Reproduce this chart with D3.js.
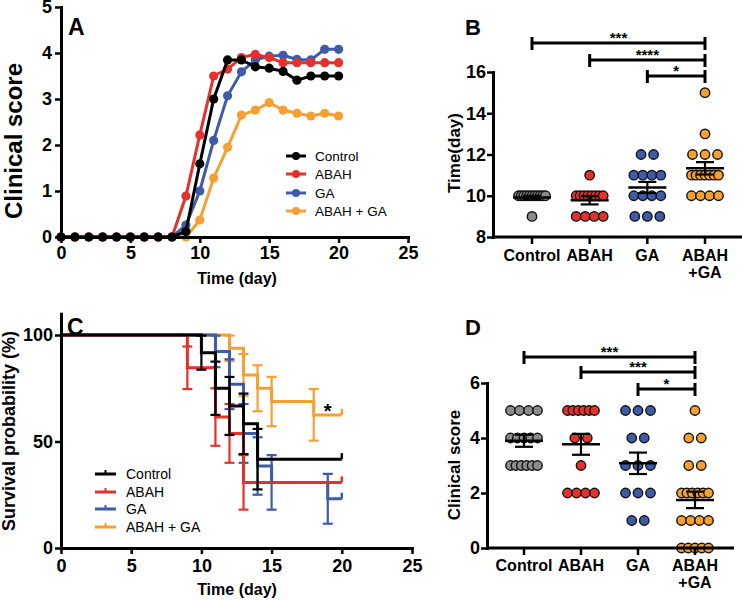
<!DOCTYPE html>
<html><head><meta charset="utf-8">
<script src="https://cdn.jsdelivr.net/npm/d3@7"></script>
<style>body{margin:0;background:#fff}svg text{font-family:"Liberation Sans",Arial,Helvetica,sans-serif}</style>
</head><body><svg id="c" width="742" height="601"></svg>
<script>
// ---------- data ----------
const groups = ["Control", "ABAH", "GA", "ABAH + GA"];
const lineColors = ["#000000", "#e5302d", "#3d5ba8", "#f5a030"];
const dotColors = ["#8c8c8c", "#e5302d", "#3d5ba8", "#f5a030"];
const catLines = [["Control"], ["ABAH"], ["GA"], ["ABAH", "+GA"]];

// Panel A: clinical score over time
const days = [0,1,2,3,4,5,6,7,8,9,10,11,12,13,14,15,16,17,18,19,20];
const scoreControl = [0,0,0,0,0,0,0,0,0,0.12,1.59,3.0,3.85,3.85,3.7,3.67,3.6,3.41,3.5,3.5,3.5];
const scoreABAH    = [0,0,0,0,0,0,0,0,0,0.89,2.22,3.5,3.65,3.9,3.97,3.9,3.79,3.79,3.79,3.79,3.79];
const scoreGA      = [0,0,0,0,0,0,0,0,0,0.26,1.0,2.1,3.07,3.59,3.85,3.93,3.95,3.86,3.85,4.08,4.08];
const scoreCombo   = [0,0,0,0,0,0,0,0,0,0,0.37,1.28,1.95,2.65,2.76,2.92,2.76,2.69,2.63,2.69,2.63];
const xTicksA = [0,5,10,15,20,25];
const yTicksA = [0,1,2,3,4,5];

// Panel B: onset time (day)
const onsetControl = [10,10,10,10,10,10,10,10,10,10,10,9];
const onsetABAH    = [11,10,10,10,10,10,10,10,10,9,9,9,9];
const onsetGA      = [12,12,11,11,11,11,10,10,10,10,9,9,9];
const onsetCombo   = [15,13,12,12,12,11,11,11,11,11,11,11,10,10,10,10];
const onsetMean = [9.92, 9.78, 10.4, 11.33];
const onsetSEM  = [0.08, 0.2, 0.27, 0.3];
const yTicksB = [8,10,12,14,16];
const sigB = [[0,3,"***"],[1,3,"****"],[2,3,"*"]];

// Panel C: survival (Kaplan-Meier)
const kmTimeControl = [0,10,11,12,13,14,20];
const kmSurvControl = [100,91.7,75,66.7,58.3,41.7,41.7];
const kmSEControl   = [0,8,12.5,13.6,14.2,14.2,0];
const kmTimeABAH = [0,9,11,12,13,20];
const kmSurvABAH = [100,84.6,61.5,53.8,30.8,30.8];
const kmSEABAH   = [0,10,13.5,13.8,12.8,0];
const kmTimeGA = [0,11,12,13,14,15,19,20];
const kmSurvGA = [100,92.3,76.9,53.8,38.5,30.8,23.1,23.1];
const kmSEGA   = [0,7.4,11.7,13.8,13.5,12.8,11.7,0];
const kmTimeCombo = [0,12,13,14,15,18,20];
const kmSurvCombo = [100,93.75,81.25,75,68.75,62.5,62.5];
const kmSECombo   = [0,6,9.8,10.8,11.6,12.1,0];
const xTicksC = [0,5,10,15,20,25];
const yTicksC = [0,50,100];
const starC = {day: 19, surv: 66.5, text: "*"};

// Panel D: clinical score per animal
const clinControl = [5,5,5,5,4,4,4,4,4,3,3,3,3,3,3];
const clinABAH    = [5,5,5,5,5,5,4,4,3,2,2,2,2];
const clinGA      = [5,5,5,4,4,3,3,3,2,2,2,1,1];
const clinCombo   = [5,4,4,3,3,2,2,2,2,2,2,1,1,1,1,0,0,0,0,0];
const clinMean = [3.9, 3.77, 3.08, 1.75];
const clinSEM  = [0.22, 0.38, 0.39, 0.3];
const yTicksD = [0,2,4,6];
const sigD = [[0,3,"***"],[1,3,"***"],[2,3,"*"]];

// ---------- drawing ----------
const svg = d3.select("#c");
const fmt = d3.format("d");

function styleAxis(g, fs) {
  g.selectAll(".domain").attr("stroke-width", 3).attr("stroke-linecap", "square");
  g.selectAll(".tick line").attr("stroke-width", 2.5);
  g.selectAll(".tick text").attr("font-size", fs).attr("font-weight", "bold").attr("fill", "#000");
}
function label(x, y, txt, fs, weight, rot) {
  const t = svg.append("text").attr("font-size", fs).attr("font-weight", weight || "bold").text(txt);
  if (rot) t.attr("transform", `translate(${x},${y}) rotate(-90)`).attr("text-anchor", "middle");
  else t.attr("x", x).attr("y", y);
  return t;
}

// ===== Panel A =====
(function () {
  const x = d3.scaleLinear().domain([0, 25]).range([61, 408]);
  const y = d3.scaleLinear().domain([0, 5]).range([237, 7]);
  const series = [scoreControl, scoreABAH, scoreGA, scoreCombo];
  const line = d3.line().x((d, i) => x(days[i])).y(d => y(d));
  [3, 2, 1, 0].forEach(k => {
    svg.append("path").datum(series[k]).attr("d", line).attr("fill", "none")
      .attr("stroke", lineColors[k]).attr("stroke-width", 3);
    svg.append("g").selectAll("circle").data(series[k]).join("circle")
      .attr("cx", (d, i) => x(days[i])).attr("cy", d => y(d)).attr("r", 4.6).attr("fill", lineColors[k]);
  });
  svg.append("g").attr("transform", "translate(0,237)")
    .call(d3.axisBottom(x).tickValues(xTicksA).tickFormat(fmt).tickSize(6).tickSizeOuter(0).tickPadding(3)).call(styleAxis, 18);
  svg.append("g").attr("transform", "translate(61,0)")
    .call(d3.axisLeft(y).tickValues(yTicksA).tickFormat(fmt).tickSize(6).tickSizeOuter(0).tickPadding(3)).call(styleAxis, 18);
  label(237, 284, "Time (day)", 16).attr("text-anchor", "middle");
  label(22, 141, "Clinical score", 24, "bold", true);
  label(68, 35, "A", 23);
  // legend
  const ly = [156, 174, 193, 211];
  groups.forEach((g, k) => {
    svg.append("line").attr("x1", 286).attr("x2", 306).attr("y1", ly[k]).attr("y2", ly[k])
      .attr("stroke", lineColors[k]).attr("stroke-width", 3);
    svg.append("circle").attr("cx", 296).attr("cy", ly[k]).attr("r", 4).attr("fill", lineColors[k]);
    label(315, ly[k] + 5, g, 13.5, "normal");
  });
})();

// ===== Panel C =====
(function () {
  const x = d3.scaleLinear().domain([0, 25]).range([61, 412]);
  const y = d3.scaleLinear().domain([0, 110]).range([548, 313.7]);
  const T = [kmTimeControl, kmTimeABAH, kmTimeGA, kmTimeCombo];
  const S = [kmSurvControl, kmSurvABAH, kmSurvGA, kmSurvCombo];
  const E = [kmSEControl, kmSEABAH, kmSEGA, kmSECombo];
  const line = d3.line().curve(d3.curveStepAfter);
  [3, 2, 1, 0].forEach(k => {
    const pts = T[k].map((t, i) => [x(t), y(S[k][i])]);
    const g = svg.append("g").attr("stroke", lineColors[k]).attr("fill", "none");
    T[k].forEach((t, i) => {
      if (!E[k][i]) return;
      const xx = x(t), y1 = y(S[k][i] - E[k][i]), y2 = y(S[k][i] + E[k][i]);
      g.append("line").attr("x1", xx).attr("x2", xx).attr("y1", y1).attr("y2", y2).attr("stroke-width", 2.2);
      [y1, y2].forEach(yy => g.append("line").attr("x1", xx - 5).attr("x2", xx + 5)
        .attr("y1", yy).attr("y2", yy).attr("stroke-width", 2.2));
    });
    g.append("path").attr("d", line(pts)).attr("stroke-width", 3);
    const last = pts[pts.length - 1];
    g.append("line").attr("x1", last[0]).attr("x2", last[0]).attr("y1", last[1]).attr("y2", last[1] - 6)
      .attr("stroke-width", 2.5);
  });
  svg.append("g").attr("transform", "translate(0,548)")
    .call(d3.axisBottom(x).tickValues(xTicksC).tickFormat(fmt).tickSize(6).tickSizeOuter(0).tickPadding(5)).call(styleAxis, 18);
  svg.append("g").attr("transform", "translate(61,0)")
    .call(d3.axisLeft(y).tickValues(yTicksC).tickFormat(fmt).tickSize(6).tickSizeOuter(0).tickPadding(2)).call(styleAxis, 18);
  label(x(starC.day), y(starC.surv) + 12, starC.text, 20).attr("text-anchor", "middle");
  label(237, 595, "Time (day)", 16).attr("text-anchor", "middle");
  label(15, 431, "Survival probability (%)", 18, "bold", true);
  label(67, 335, "C", 23);
  const ly = [474, 492, 509, 527];
  groups.forEach((g, k) => {
    svg.append("line").attr("x1", 95).attr("x2", 116).attr("y1", ly[k]).attr("y2", ly[k])
      .attr("stroke", lineColors[k]).attr("stroke-width", 3);
    svg.append("line").attr("x1", 105.5).attr("x2", 105.5).attr("y1", ly[k]).attr("y2", ly[k] - 4)
      .attr("stroke", lineColors[k]).attr("stroke-width", 2);
    label(126, ly[k] + 5, g, 14, "normal");
  });
})();

// ===== scatter panels B and D =====
function scatterPanel(o) {
  const x = d3.scalePoint().domain(groups).range(o.xRange);
  const y = d3.scaleLinear().domain(o.yDomain).range([o.yBottom, o.yTop]);
  o.values.forEach((vals, k) => {
    const rows = d3.group(vals, v => v);
    const pts = [];
    rows.forEach((arr, v) => {
      const n = arr.length;
      const sp = n > 1 ? Math.min(12.5, 27 / (n - 1)) : 0;
      arr.forEach((_, i) => pts.push([x(groups[k]) + (i - (n - 1) / 2) * sp, y(v)]));
    });
    svg.append("g").selectAll("circle").data(pts).join("circle")
      .attr("cx", d => d[0]).attr("cy", d => d[1]).attr("r", 4.7)
      .attr("fill", dotColors[k]).attr("stroke", "#111").attr("stroke-width", 1.4);
  });
  groups.forEach((g, k) => {
    const cx = x(g), m = y(o.mean[k]), lo = y(o.mean[k] - o.sem[k]), hi = y(o.mean[k] + o.sem[k]);
    const gg = svg.append("g").attr("stroke", "#000");
    gg.append("line").attr("x1", cx - 19).attr("x2", cx + 19).attr("y1", m).attr("y2", m).attr("stroke-width", 2.5);
    gg.append("line").attr("x1", cx).attr("x2", cx).attr("y1", lo).attr("y2", hi).attr("stroke-width", 2.2);
    [lo, hi].forEach(yy => gg.append("line").attr("x1", cx - 9).attr("x2", cx + 9)
      .attr("y1", yy).attr("y2", yy).attr("stroke-width", 2.2));
  });
  svg.append("g").attr("transform", `translate(${o.axisX},0)`)
    .call(d3.axisLeft(y).tickValues(o.yTicks).tickFormat(fmt).tickSize(6).tickSizeOuter(0).tickPadding(1)).call(styleAxis, 18);
  svg.append("line").attr("x1", o.axisX).attr("x2", o.xEnd).attr("y1", o.yBottom).attr("y2", o.yBottom)
    .attr("stroke", "#000").attr("stroke-width", 3);
  groups.forEach((g, k) => {
    svg.append("line").attr("x1", x(g)).attr("x2", x(g)).attr("y1", o.yBottom).attr("y2", o.yBottom + 7)
      .attr("stroke", "#000").attr("stroke-width", 2.5);
    catLines[k].forEach((t, j) => label(x(g), o.catBase + j * 17, t, 16).attr("text-anchor", "middle"));
  });
  o.sig.forEach((s, j) => {
    const yy = o.sigY[j], x1 = x(groups[s[0]]), x2 = x(groups[s[1]]);
    const gg = svg.append("g").attr("stroke", "#000").attr("stroke-width", 3);
    gg.append("line").attr("x1", x1).attr("x2", x2).attr("y1", yy).attr("y2", yy);
    gg.append("line").attr("x1", x1).attr("x2", x1).attr("y1", yy - 6).attr("y2", yy + 7);
    gg.append("line").attr("x1", x2).attr("x2", x2).attr("y1", yy - 6).attr("y2", yy + 7);
    label((x1 + x2) / 2, yy - 0.5, s[2], 15).attr("text-anchor", "middle");
  });
  label(o.titleX, o.titleY, o.title, o.titleSize, "bold", true);
  label(o.letterX, o.letterY, o.letter, 22);
}

scatterPanel({
  xRange: [532, 705], yDomain: [8, 16], yBottom: 237, yTop: 72, axisX: 493, xEnd: 742,
  values: [onsetControl, onsetABAH, onsetGA, onsetCombo], mean: onsetMean, sem: onsetSEM,
  yTicks: yTicksB, catBase: 261, sig: sigB, sigY: [43, 60, 76],
  title: "Time(day)", titleX: 460, titleY: 153, titleSize: 17, letter: "B", letterX: 465, letterY: 35
});
scatterPanel({
  xRange: [524, 695], yDomain: [0, 6], yBottom: 548, yTop: 383, axisX: 487, xEnd: 734,
  values: [clinControl, clinABAH, clinGA, clinCombo], mean: clinMean, sem: clinSEM,
  yTicks: yTicksD, catBase: 571, sig: sigD, sigY: [357, 372, 389],
  title: "Clinical score", titleX: 460, titleY: 465, titleSize: 17, letter: "D", letterX: 465, letterY: 335
});
</script>
</body></html>
